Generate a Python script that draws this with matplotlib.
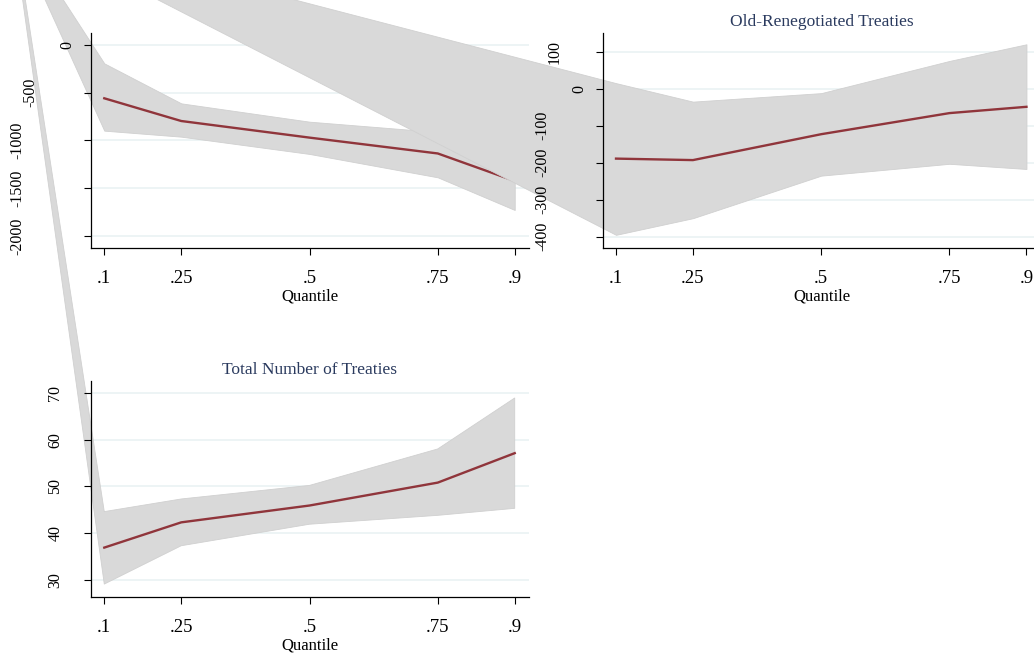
import matplotlib
matplotlib.use("Agg")
import matplotlib.pyplot as plt
from matplotlib.transforms import offset_copy

plt.rcParams['font.family'] = ['Liberation Serif', 'DejaVu Serif']

quantiles = [0.1, 0.25, 0.5, 0.75, 0.9]

# panel 1 (no visible title)
p1_coef = [-558, -796, -970, -1136, -1424]
p1_lo = [-897, -960, -1141, -1386, -1728]
p1_hi = [-192, -611, -803, -911, -1150]
p1_ticks = [0, -500, -1000, -1500, -2000]

# panel 2
p2_coef = [-189, -193, -123, -66, -49]
p2_lo = [-395, -350, -235, -203, -217]
p2_hi = [15, -35, -12, 75, 120]
p2_ticks = [100, 0, -100, -200, -300, -400]

# panel 3
p3_coef = [36.9, 42.3, 45.9, 50.8, 57.1]
p3_lo = [29.1, 37.3, 41.9, 43.8, 45.3]
p3_hi = [44.6, 47.3, 50.2, 58.0, 68.9]
p3_ticks = [30, 40, 50, 60, 70]

# stray first vertex of each CI polygon in the source (quantile, value)
apex_q = [-0.099, -1.067, -0.110]
apex_v = [1458, 436, 194]

titles = ["", "Old-Renegotiated Treaties", "Total Number of Treaties"]
xtick_labels = [".1", ".25", ".5", ".75", ".9"]

RED = '#90353b'
BAND = '#d9d9d9'
GRID = '#eaf2f3'
TITLE = '#2a3a5e'

fig = plt.figure(figsize=(10.34, 6.56), dpi=100)

boxes = [
    [0.0883, 0.622, 0.4229, 0.3277],
    [0.5832, 0.622, 0.4229, 0.3277],
    [0.0883, 0.0904, 0.4229, 0.3293],
]
ylims = [(-2126, 126), (-430.5, 150.5), (26.4, 72.6)]

panels = [
    (p1_coef, p1_lo, p1_hi, p1_ticks),
    (p2_coef, p2_lo, p2_hi, p2_ticks),
    (p3_coef, p3_lo, p3_hi, p3_ticks),
]

for i, (coef, lo, hi, yt) in enumerate(panels):
    ax = fig.add_axes(boxes[i])
    ax.set_xlim(0.0747, 0.927)
    ax.set_ylim(*ylims[i])

    for v in yt:
        ax.axhline(v, color=GRID, lw=1.2, zorder=0.5)

    bx = [apex_q[i]] + quantiles
    blo = [apex_v[i]] + lo
    bhi = [apex_v[i]] + hi
    ax.fill_between(bx, blo, bhi, facecolor=BAND, edgecolor='#d0d0d0',
                    lw=0.6, zorder=1, clip_on=False)
    ax.plot(quantiles, coef, color=RED, lw=1.7, zorder=2)

    for s in ['top', 'right']:
        ax.spines[s].set_visible(False)
    ax.spines['left'].set_linewidth(0.9)
    ax.spines['bottom'].set_linewidth(0.9)

    ax.set_xticks(quantiles)
    ax.set_xticklabels(xtick_labels, fontsize=13.5)
    ax.tick_params(axis='x', length=5, width=0.8, pad=11)
    ax.set_xlabel("Quantile", fontsize=12, labelpad=1)

    ax.set_yticks(yt)
    ax.set_yticklabels([])
    ax.tick_params(axis='y', length=5, width=0.8)
    for v in yt:
        lab = str(v)
        off = 11 + 12.5 * len(lab)
        tr = offset_copy(ax.get_yaxis_transform(), fig=fig, x=-off, y=0,
                         units='dots')
        ax.text(0, v, lab, transform=tr, rotation=90, ha='center',
                va='center', fontsize=11.5, clip_on=False)

    if titles[i]:
        ax.set_title(titles[i], fontsize=12.5, color=TITLE, pad=5)

fig.savefig("out.png", dpi=100)
